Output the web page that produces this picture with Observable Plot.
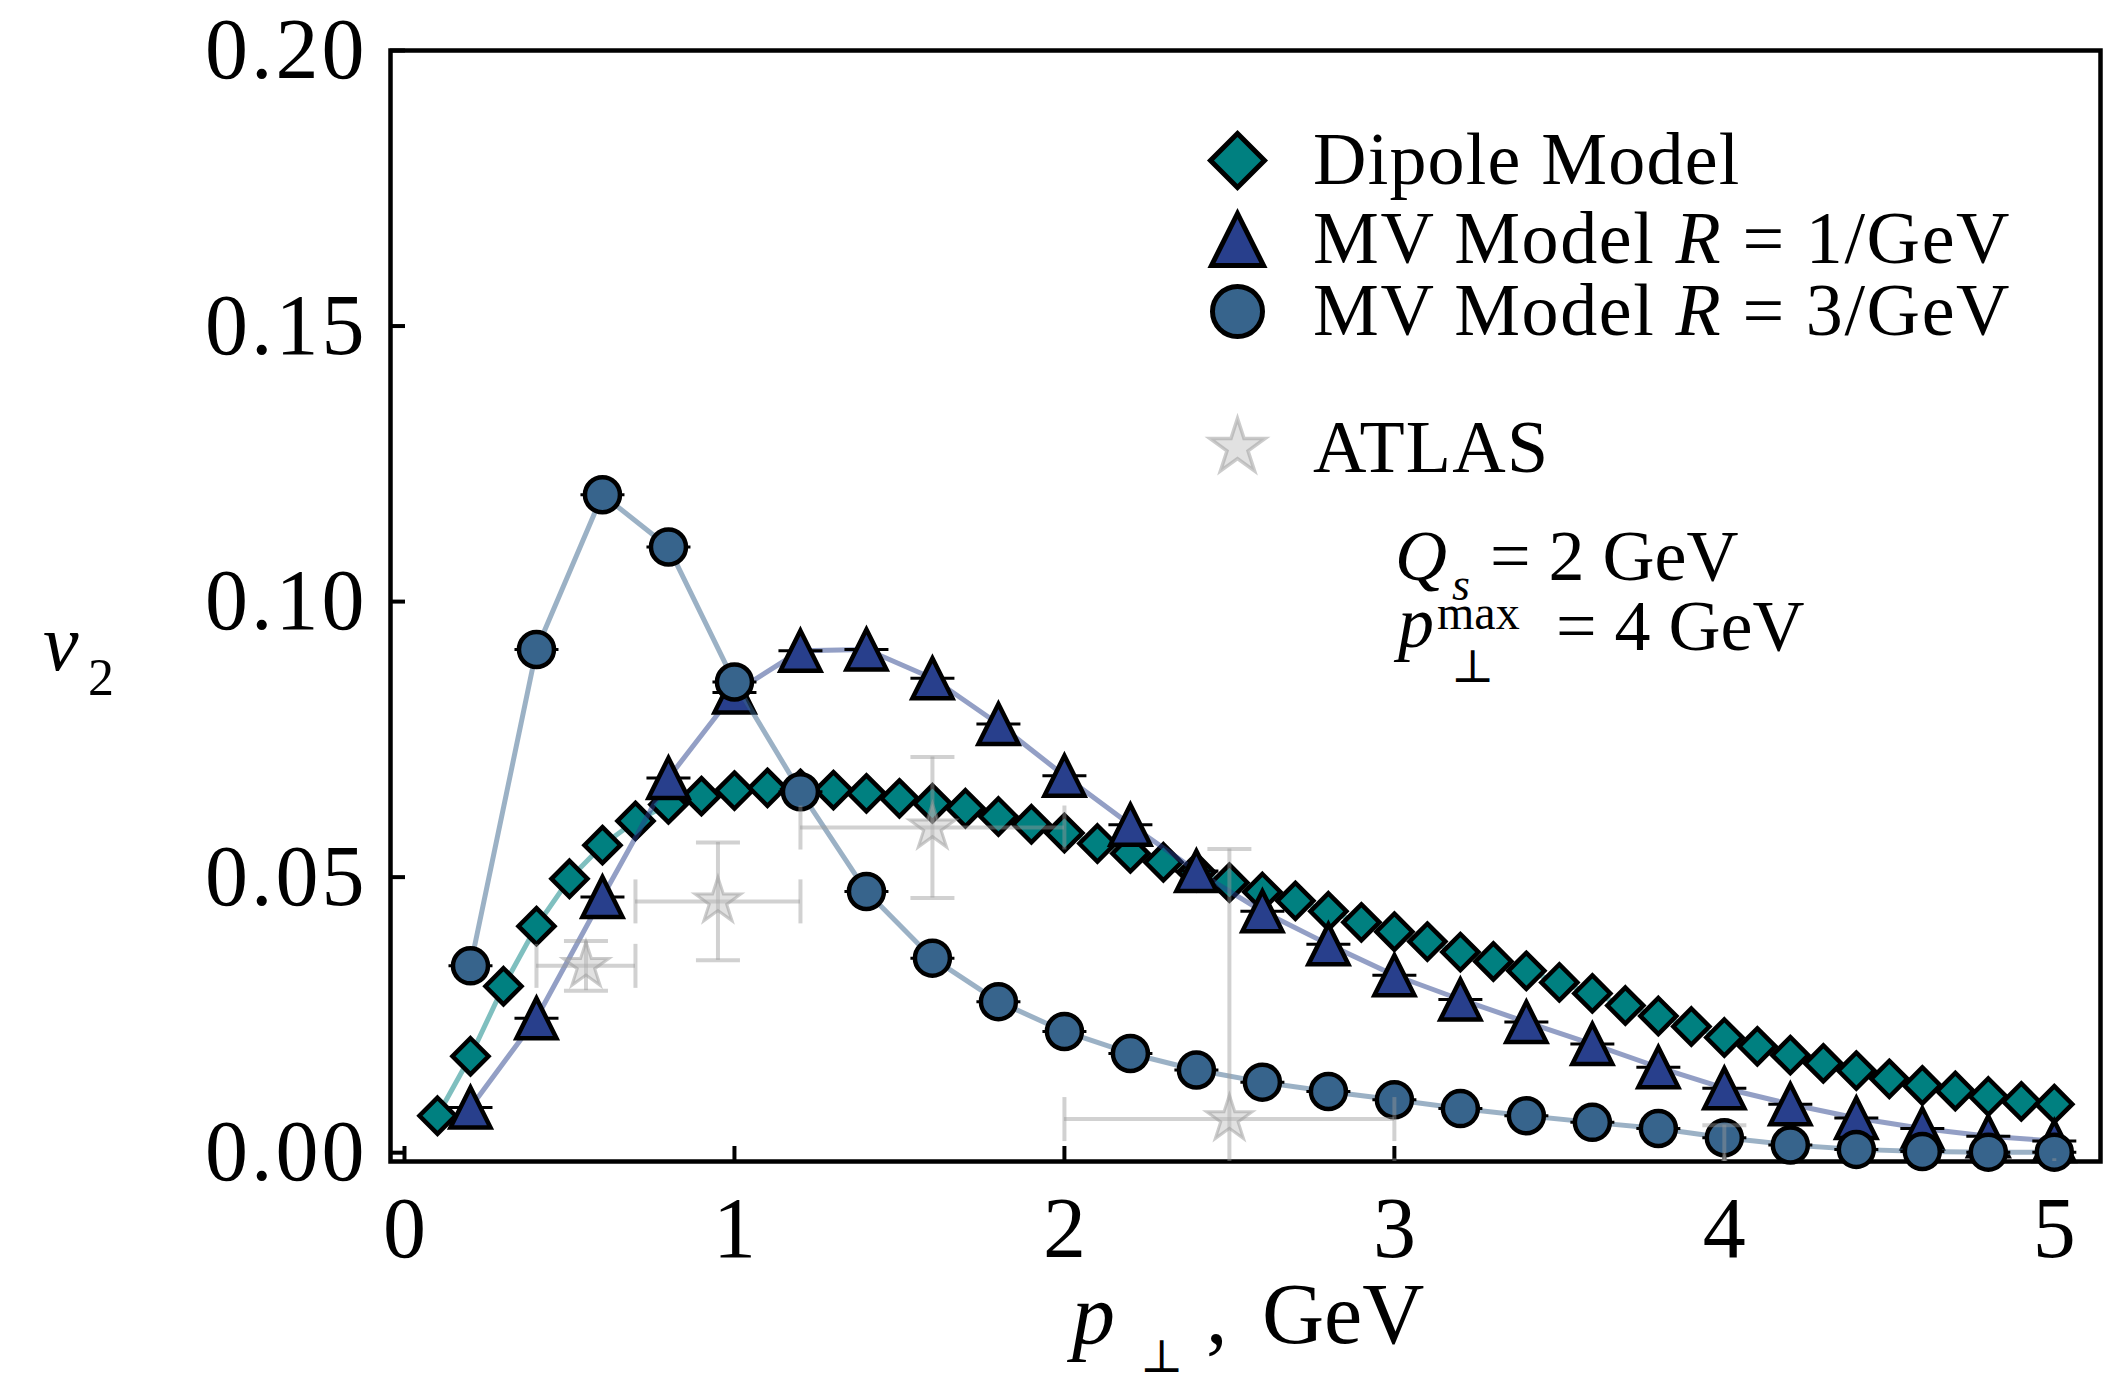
<!DOCTYPE html>
<html><head><meta charset="utf-8">
<script src="https://cdn.jsdelivr.net/npm/d3@7"></script>
<script src="https://cdn.jsdelivr.net/npm/@observablehq/plot@0.6"></script>
<style>
html,body{margin:0;padding:0;background:#fff;}
#chart{width:2111px;height:1381px;}
</style></head><body><div id="chart"></div>
<script>
// ---------------- data ----------------
const dipoleX = [0.1,0.2,0.3,0.4,0.5,0.6,0.7,0.8,0.9,1.0,1.1,1.2,1.3,1.4,1.5,1.6,1.7,1.8,1.9,2.0,
                 2.1,2.2,2.3,2.4,2.5,2.6,2.7,2.8,2.9,3.0,3.1,3.2,3.3,3.4,3.5,3.6,3.7,3.8,3.9,4.0,
                 4.1,4.2,4.3,4.4,4.5,4.6,4.7,4.8,4.9,5.0];
const dipoleV = [0.0067,0.0175,0.0302,0.0411,0.0497,0.0558,0.0602,0.0632,0.0647,0.0657,
                 0.0662,0.0660,0.0658,0.0652,0.0643,0.0634,0.0625,0.0610,0.0596,0.0580,
                 0.0561,0.0543,0.0527,0.0509,0.0490,0.0473,0.0457,0.0438,0.0418,0.0401,
                 0.0383,0.0364,0.0347,0.0330,0.0309,0.0289,0.0267,0.0248,0.0229,0.0209,
                 0.0193,0.0177,0.0162,0.0149,0.0134,0.0122,0.0112,0.0102,0.0093,0.0088];
const mvX = [0.2,0.4,0.6,0.8,1.0,1.2,1.4,1.6,1.8,2.0,2.2,2.4,2.6,2.8,3.0,3.2,3.4,3.6,3.8,4.0,4.2,4.4,4.6,4.8,5.0];
const mvR1V = [0.0082,0.0244,0.0464,0.0680,0.0835,0.0911,0.0913,0.0861,0.0778,0.0684,
               0.0595,0.0511,0.0438,0.0378,0.0322,0.0278,0.0237,0.0197,0.0155,0.0117,
               0.0088,0.0063,0.0044,0.0030,0.0021];
const mvR3V = [0.0339,0.0913,0.1194,0.1099,0.0854,0.0655,0.0474,0.0353,0.0274,0.0220,
               0.0180,0.0150,0.0128,0.0111,0.0096,0.0080,0.0067,0.0055,0.0044,0.0027,
               0.0014,0.0006,0.0002,0.0001,0.0001];
const atlasX    = [0.55, 0.95, 1.6, 2.5, 4.0];
const atlasXlo  = [0.4, 0.7, 1.2, 2.0, 3.0];
const atlasXhi  = [0.7, 1.2, 2.0, 3.0, 5.0];
const atlasV    = [0.0339, 0.0456, 0.0590, 0.0061, -0.0050];
const atlasErr  = [0.0045, 0.0107, 0.0128, 0.0490, 0.0100];
const xTicks = [0,1,2,3,4,5];
const yTicks = [0.00,0.05,0.10,0.15,0.20];
const seriesNames = ["Dipole Model", "MV Model R = 1/GeV", "MV Model R = 3/GeV", "ATLAS"];

// ---------------- styles ----------------
const C = {dip:"#008080", r1:"#283f8c", r3:"#37648c", atlas:"#999999"};
const FONT = "'Liberation Serif', 'DejaVu Serif', serif";

const R = s => Math.sqrt(s/Math.PI);
const diamondSym = {draw(c,s){const h=R(s); c.moveTo(0,-h); c.lineTo(h,0); c.lineTo(0,h); c.lineTo(-h,0); c.closePath();}};
const triangleSym = {draw(c,s){const h=R(s); c.moveTo(0,-h); c.lineTo(h,h); c.lineTo(-h,h); c.closePath();}};
const starSym = {draw(c,s){const o=R(s), in_=o*0.382; for(let i=0;i<10;i++){const a=-Math.PI/2+i*Math.PI/5, rr=i%2?in_:o; const px=rr*Math.cos(a), py=rr*Math.sin(a); if(i) c.lineTo(px,py); else c.moveTo(px,py);} c.closePath();}};
const hcapSym = {draw(c,s){const h=R(s); c.moveTo(-h,0); c.lineTo(h,0);}};
const vcapSym = {draw(c,s){const h=R(s); c.moveTo(0,-h); c.lineTo(0,h);}};

const dip = dipoleX.map((x,i)=>({x, v:dipoleV[i]}));
const r1 = mvX.map((x,i)=>({x, v:mvR1V[i]}));
const r3 = mvX.map((x,i)=>({x, v:mvR3V[i]}));
const atlas = atlasX.map((x,i)=>({x, lo:atlasXlo[i], hi:atlasXhi[i], v:atlasV[i], e:atlasErr[i]}));

const legendRows = [
  {name: seriesNames[0], sym: diamondSym, r: 27, fill: C.dip, dy: 110},
  {name: seriesNames[1], sym: triangleSym, r: 26, fill: C.r1, dy: 189},
  {name: seriesNames[2], sym: "circle", r: 25, fill: C.r3, dy: 261}
];

const atlasBar = {stroke: C.atlas, strokeOpacity: 0.45, strokeWidth: 4, clip: true};

const plot = Plot.plot({
  width: 2111, height: 1381,
  marginLeft: 390, marginRight: 11, marginTop: 50, marginBottom: 220,
  x: {domain: [-0.0424, 5.14]},
  y: {domain: [-0.0016, 0.2]},
  style: {fontFamily: FONT, background: "white", color: "black", overflow: "visible"},
  marks: [
    Plot.axisX({ticks: xTicks, tickFormat: d3.format("d"), tickSize: -15, tickPadding: 49, strokeWidth: 4, fontSize: 86, label: null, color: "black"}),
    Plot.axisY({ticks: yTicks, tickFormat: d3.format(".2f"), tickSize: -15, tickPadding: 38, strokeWidth: 4, fontSize: 86, label: null, color: "black"}),
    Plot.frame({stroke: "black", strokeWidth: 4.5}),
    // Dipole model
    Plot.line(dip, {x: "x", y: "v", stroke: C.dip, strokeOpacity: 0.5, strokeWidth: 5}),
    Plot.dot(dip, {x: "x", y: "v", symbol: diamondSym, r: 18, fill: C.dip, stroke: "black", strokeWidth: 4.5}),
    // MV R=1
    Plot.line(r1, {x: "x", y: "v", stroke: C.r1, strokeOpacity: 0.5, strokeWidth: 5}),
    Plot.dot(r1, {x: "x", y: "v", symbol: hcapSym, r: 22, stroke: "black", strokeWidth: 3}),
    Plot.dot(r1, {x: "x", y: "v", symbol: triangleSym, r: 20, fill: C.r1, stroke: "black", strokeWidth: 4.5}),
    // MV R=3
    Plot.line(r3, {x: "x", y: "v", stroke: C.r3, strokeOpacity: 0.5, strokeWidth: 5}),
    Plot.dot(r3, {x: "x", y: "v", symbol: hcapSym, r: 22, stroke: "black", strokeWidth: 3}),
    Plot.dot(r3, {x: "x", y: "v", symbol: "circle", r: 17.5, fill: C.r3, stroke: "black", strokeWidth: 4.5}),
    // ATLAS
    Plot.ruleX(atlas, {x: "x", y1: d => d.v - d.e, y2: d => d.v + d.e, ...atlasBar}),
    Plot.ruleY(atlas, {y: "v", x1: "lo", x2: "hi", ...atlasBar}),
    Plot.dot(atlas, {x: "x", y: d => d.v + d.e, symbol: hcapSym, r: 22, fill: "none", ...atlasBar}),
    Plot.dot(atlas, {x: "x", y: d => d.v - d.e, symbol: hcapSym, r: 22, fill: "none", ...atlasBar}),
    Plot.dot(atlas, {x: "lo", y: "v", symbol: vcapSym, r: 22, fill: "none", ...atlasBar}),
    Plot.dot(atlas, {x: "hi", y: "v", symbol: vcapSym, r: 22, fill: "none", ...atlasBar}),
    Plot.dot(atlas, {x: "x", y: "v", symbol: starSym, r: 24, fill: "#bdbdbd", fillOpacity: 0.45, stroke: "#9a9a9a", strokeOpacity: 0.5, strokeWidth: 3, clip: true}),
    // legend markers
    ...legendRows.map(row => Plot.dot([row], {frameAnchor: "top-left", dx: 847, dy: row.dy, symbol: row.sym, r: row.r, fill: row.fill, stroke: "black", strokeWidth: 5})),
    Plot.dot([seriesNames[3]], {frameAnchor: "top-left", dx: 847, dy: 397, symbol: starSym, r: 29, fill: "#bdbdbd", fillOpacity: 0.45, stroke: "#9a9a9a", strokeOpacity: 0.5, strokeWidth: 3.5})
  ]
});
document.getElementById("chart").appendChild(plot);

// wider tick-label spacing, closer to the original typesetting
d3.select(plot).selectAll('[aria-label="y-axis tick label"] text').attr("letter-spacing", 3);

// ---------------- rich text (legend labels, annotation, axis labels) ----------------
const svg = d3.select(plot);
const g = svg.append("g").attr("font-family", FONT).attr("fill", "black").attr("text-anchor", "start");
function rich(x, y, size, parts, spacing) {
  const t = g.append("text").attr("x", x).attr("y", y).attr("font-size", size).attr("text-anchor", "start");
  if (spacing) t.attr("letter-spacing", spacing);
  for (const p of parts) {
    const s = t.append("tspan").text(p.t);
    if (p.i) s.attr("font-style", "italic");
    if (p.size) s.attr("font-size", p.size);
    if (p.x != null) s.attr("x", p.x);
    if (p.y != null) s.attr("y", p.y);
  }
  return t;
}
// legend
rich(1313, 184, 74, [{t: "Dipole Model"}], 1.2);
rich(1313, 263, 74, [{t: "MV Model "}, {t: "R", i: true}, {t: " = 1/GeV"}], 1.6);
rich(1313, 335, 74, [{t: "MV Model "}, {t: "R", i: true}, {t: " = 3/GeV"}], 1.6);
rich(1313, 472, 74, [{t: seriesNames[3]}], 1.2);
// annotation
rich(1395, 580, 72, [{t: "Q", i: true}, {t: "s", i: true, size: 46, x: 1452, y: 600}, {t: "= 2 GeV", x: 1490, y: 580}]);
rich(1398, 647, 72, [{t: "p", i: true}, {t: "max", size: 48, x: 1437, y: 629}, {t: "⊥", size: 46, x: 1451, y: 682}, {t: "= 4 GeV", x: 1556, y: 650}]);
// y label
rich(43, 670, 80, [{t: "v", i: true}, {t: "2", size: 52, x: 88, y: 695}]);
// x label
rich(1072, 1343, 86, [{t: "p", i: true}, {t: "⊥", size: 46, x: 1140, y: 1372}, {t: ",", x: 1206, y: 1343}, {t: "GeV", x: 1262, y: 1343}]);
</script>
</body></html>
